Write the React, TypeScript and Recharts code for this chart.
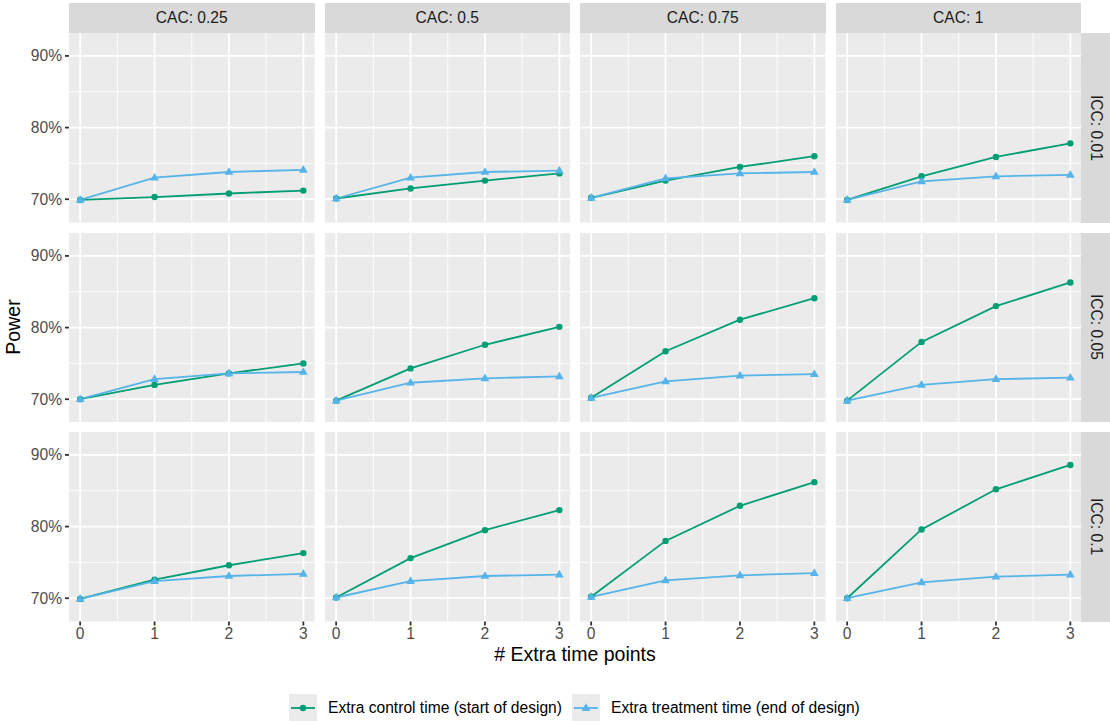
import { LineChart, Line, XAxis, YAxis, CartesianGrid, ReferenceLine } from 'recharts';

const cacLevels = ['0.25', '0.5', '0.75', '1'];
const iccLevels = ['0.01', '0.05', '0.1'];
const extraTimePoints = [0, 1, 2, 3];
const yTicks = [70, 80, 90];
const yMinor = [75, 85];
const xMinor = [0.5, 1.5, 2.5];

// power in %, indexed [icc][cac][extra time points]
const controlPower = [
  [
    [69.9, 70.3, 70.8, 71.2],
    [70.1, 71.5, 72.6, 73.6],
    [70.2, 72.6, 74.5, 76.0],
    [69.9, 73.2, 75.9, 77.8],
  ],
  [
    [70.0, 72.0, 73.6, 75.0],
    [69.8, 74.3, 77.6, 80.1],
    [70.2, 76.7, 81.1, 84.1],
    [69.8, 78.0, 83.0, 86.3],
  ],
  [
    [69.9, 72.6, 74.6, 76.3],
    [70.1, 75.6, 79.5, 82.3],
    [70.2, 78.0, 82.9, 86.2],
    [70.0, 79.6, 85.2, 88.6],
  ],
];

const treatmentPower = [
  [
    [69.9, 73.0, 73.8, 74.1],
    [70.1, 73.0, 73.8, 74.0],
    [70.2, 72.9, 73.6, 73.8],
    [69.9, 72.5, 73.2, 73.4],
  ],
  [
    [70.0, 72.8, 73.6, 73.8],
    [69.8, 72.3, 72.9, 73.2],
    [70.2, 72.5, 73.3, 73.5],
    [69.8, 72.0, 72.8, 73.0],
  ],
  [
    [69.9, 72.4, 73.1, 73.4],
    [70.1, 72.4, 73.1, 73.3],
    [70.2, 72.5, 73.2, 73.5],
    [70.0, 72.2, 73.0, 73.3],
  ],
];

const GREEN = '#009E73';
const BLUE = '#56B4E9';
const X0 = 69;
const Y0 = 33;
const PW = 245.5;
const PH = 189.5;
const GAP = 10;
const AXIS_H = 30;
const STRIP = 30;
const FS = 15.6;

const Circle = (props: any) => {
  const { cx, cy, index } = props;
  if (cx == null || cy == null) return <g key={`c-${index}`} />;
  return <circle key={`c-${index}`} cx={cx} cy={cy} r={3.2} fill={GREEN} />;
};

const Triangle = (props: any) => {
  const { cx, cy, index } = props;
  if (cx == null || cy == null) return <g key={`t-${index}`} />;
  const s = 4.4;
  return (
    <path
      key={`t-${index}`}
      d={`M${cx},${cy - s * 1.1} L${cx + s},${cy + s * 0.65} L${cx - s},${cy + s * 0.65} Z`}
      fill={BLUE}
    />
  );
};

const Panel = ({ r, c }: { r: number; c: number }) => {
  const left = c === 0;
  const bottom = r === iccLevels.length - 1;
  const data = extraTimePoints.map((t, i) => ({
    t,
    control: controlPower[r][c][i],
    treatment: treatmentPower[r][c][i],
  }));
  return (
    <div
      style={{
        position: 'absolute',
        left: left ? 0 : X0 + c * (PW + GAP),
        top: Y0 + r * (PH + GAP),
      }}
    >
      <LineChart
        width={(left ? X0 : 0) + PW}
        height={PH + (bottom ? AXIS_H : 0)}
        data={data}
        margin={{ top: 0, right: 0, bottom: 0, left: 0 }}
      >
        <CartesianGrid fill="#EBEBEB" horizontal={false} vertical={false} />
        <XAxis
          type="number"
          dataKey="t"
          domain={[-0.15, 3.15]}
          ticks={extraTimePoints}
          allowDataOverflow
          hide={!bottom}
          height={AXIS_H}
          axisLine={false}
          tickSize={4}
          tickMargin={2}
          tickLine={{ stroke: '#333333', strokeWidth: 1.8 }}
          tick={{ fill: '#4D4D4D', fontSize: FS }}
        />
        <YAxis
          type="number"
          domain={[66.75, 93.2]}
          ticks={yTicks}
          allowDataOverflow
          hide={!left}
          width={X0}
          axisLine={false}
          tickSize={4}
          tickMargin={3}
          tickLine={{ stroke: '#333333', strokeWidth: 1.8 }}
          tick={{ fill: '#4D4D4D', fontSize: FS }}
          tickFormatter={(v) => `${v}%`}
        />
        {xMinor.map((x) => (
          <ReferenceLine key={`xm-${x}`} x={x} stroke="#FFFFFF" strokeWidth={0.9} />
        ))}
        {yMinor.map((y) => (
          <ReferenceLine key={`ym-${y}`} y={y} stroke="#FFFFFF" strokeWidth={0.9} />
        ))}
        {extraTimePoints.map((x) => (
          <ReferenceLine key={`xM-${x}`} x={x} stroke="#FFFFFF" strokeWidth={1.8} />
        ))}
        {yTicks.map((y) => (
          <ReferenceLine key={`yM-${y}`} y={y} stroke="#FFFFFF" strokeWidth={1.8} />
        ))}
        <Line
          dataKey="control"
          stroke={GREEN}
          strokeWidth={1.8}
          dot={Circle}
          activeDot={false}
          isAnimationActive={false}
        />
        <Line
          dataKey="treatment"
          stroke={BLUE}
          strokeWidth={1.8}
          dot={Triangle}
          activeDot={false}
          isAnimationActive={false}
        />
      </LineChart>
    </div>
  );
};

const LegendKey = ({ color, shape }: { color: string; shape: 'circle' | 'triangle' }) => (
  <svg width={28} height={28} style={{ display: 'block' }}>
    <rect x={0} y={0} width={28} height={28} fill="#EBEBEB" />
    <line x1={2} y1={14} x2={26} y2={14} stroke={color} strokeWidth={1.8} />
    {shape === 'circle' ? (
      <circle cx={14} cy={14} r={3.2} fill={color} />
    ) : (
      <path d="M14,9.2 L18.4,16.9 L9.6,16.9 Z" fill={color} />
    )}
  </svg>
);

export default function App() {
  const stripRight = X0 + 4 * PW + 3 * GAP;
  return (
    <div
      style={{
        position: 'absolute',
        left: 0,
        top: 0,
        width: 1110,
        height: 721,
        overflow: 'hidden',
        background: '#FFFFFF',
        fontFamily: '"Liberation Sans", Arial, sans-serif',
      }}
    >
      {cacLevels.map((cac, c) => (
        <div
          key={`strip-${cac}`}
          style={{
            position: 'absolute',
            left: X0 + c * (PW + GAP),
            top: Y0 - STRIP,
            width: PW,
            height: STRIP,
            background: '#D9D9D9',
            color: '#1A1A1A',
            fontSize: FS,
            lineHeight: `${STRIP}px`,
            textAlign: 'center',
          }}
        >
          CAC: {cac}
        </div>
      ))}
      {iccLevels.map((icc, r) => (
        <div
          key={`rstrip-${icc}`}
          style={{
            position: 'absolute',
            left: stripRight,
            top: Y0 + r * (PH + GAP),
            width: 29,
            height: PH,
            background: '#D9D9D9',
            color: '#1A1A1A',
            fontSize: FS,
            display: 'flex',
            alignItems: 'center',
            justifyContent: 'center',
          }}
        >
          <span style={{ writingMode: 'vertical-rl' }}>ICC: {icc}</span>
        </div>
      ))}
      {iccLevels.map((_, r) => cacLevels.map((__, c) => <Panel key={`p-${r}-${c}`} r={r} c={c} />))}
      <div
        style={{
          position: 'absolute',
          left: X0,
          width: 4 * PW + 3 * GAP,
          top: 643,
          textAlign: 'center',
          fontSize: 19.5,
          color: '#000000',
        }}
      >
        # Extra time points
      </div>
      <div
        style={{
          position: 'absolute',
          left: 13,
          top: Y0 + (3 * PH + 2 * GAP) / 2,
          transform: 'translate(-50%, -50%) rotate(-90deg)',
          fontSize: 19.5,
          color: '#000000',
          whiteSpace: 'nowrap',
        }}
      >
        Power
      </div>
      <div
        style={{
          position: 'absolute',
          left: 289,
          top: 694,
          display: 'flex',
          alignItems: 'center',
          fontSize: FS,
          color: '#000000',
          whiteSpace: 'nowrap',
        }}
      >
        <LegendKey color={GREEN} shape="circle" />
        <span style={{ marginLeft: 11, marginRight: 10 }}>Extra control time (start of design)</span>
        <LegendKey color={BLUE} shape="triangle" />
        <span style={{ marginLeft: 11 }}>Extra treatment time (end of design)</span>
      </div>
    </div>
  );
}
